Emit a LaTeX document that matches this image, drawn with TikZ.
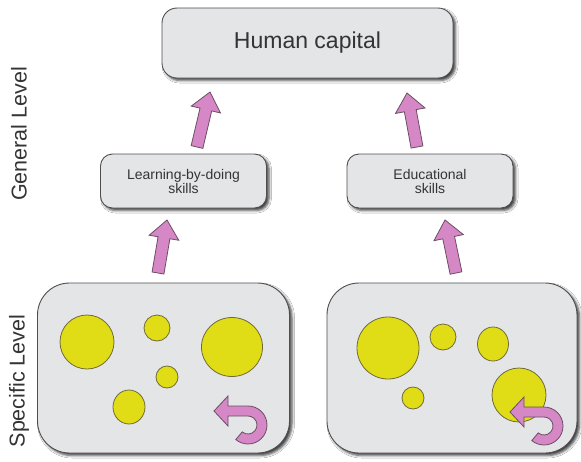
\documentclass[tikz,border=0pt]{standalone}
\usepackage{fontspec}
\setmainfont{Liberation Sans}
\usetikzlibrary{calc,shadows.blur}
\definecolor{boxfill}{RGB}{228,229,231}
\definecolor{boxline}{RGB}{78,78,80}
\definecolor{pinkarrow}{RGB}{214,136,198}
\definecolor{pinkline}{RGB}{105,78,100}
\definecolor{spotfill}{RGB}{224,221,22}
\definecolor{spotline}{RGB}{112,106,58}
\definecolor{txtgrey}{RGB}{52,52,52}

% fat upward arrow from #1 (tail) to #2 (tip)
\newcommand{\blockarrow}[2]{%
  \path ($(#2)!18pt!(#1)$) coordinate (ba-base);
  \draw[fatarrow] ($(#1)!6pt!90:(#2)$) -- ($(ba-base)!6pt!-90:(#1)$)
    -- ($(ba-base)!15pt!-90:(#1)$) -- (#2) -- ($(ba-base)!15pt!90:(#1)$)
    -- ($(ba-base)!6pt!90:(#1)$) -- ($(#1)!6pt!-90:(#2)$) -- cycle;}

\begin{document}
\begin{tikzpicture}[x=1pt,y=-1pt,
  box/.style={draw=boxline,fill=boxfill,line width=0.9pt,inner sep=0pt,outer sep=0pt,
    align=center,text=txtgrey,
    blur shadow={shadow xshift=2.5pt,shadow yshift=-2.5pt,shadow blur radius=2.5pt,shadow opacity=75}},
  skillbox/.style={box,minimum width=166,minimum height=54,rounded corners=12,
    font=\fontsize{14}{14}\selectfont},
  levelbox/.style={box,minimum width=252,minimum height=170,rounded corners=32},
  sidelab/.style={rotate=90,text=txtgrey,font=\fontsize{21.5}{22}\selectfont},
  fatarrow/.style={draw=pinkline,fill=pinkarrow,line width=0.8pt,line join=miter},
  spot/.style={draw=spotline,fill=spotfill,line width=0.8pt}]

  \path[use as bounding box,fill=white] (0,0) rectangle (581,461);

  % top level
  \node[box,minimum width=291,minimum height=70,rounded corners=15,
    font=\fontsize{23}{23}\selectfont] (hc) at (307.5,43) {Human capital};

  % general level
  \node[skillbox] (lbd) at (183.5,181) {Learning-by-doing\\skills};
  \node[skillbox] (edu) at (430,181) {Educational\\skills};

  % specific level
  \node[levelbox] (spl) at (163.5,368) {};
  \node[levelbox,minimum width=250] (spr) at (452,368) {};

  \node[sidelab] (genlab) at (19,134) {General Level};
  \node[sidelab] (speclab) at (19,381) {Specific Level};

  % arrows between the levels
  \coordinate (lbd-out) at ($(lbd.north)+(13.5,-7)$);
  \coordinate (hc-inl) at ($(hc.south)+(-97.5,14)$);
  \coordinate (edu-out) at ($(edu.north)+(-13,-7)$);
  \coordinate (hc-inr) at ($(hc.south)+(99.5,15)$);
  \coordinate (spl-out) at ($(spl.north)+(-5.5,-10)$);
  \coordinate (lbd-in) at ($(lbd.south)+(-16.5,12)$);
  \coordinate (spr-out) at ($(spr.north)+(4,-10)$);
  \coordinate (edu-in) at ($(edu.south)+(15,12)$);
  \blockarrow{lbd-out}{hc-inl}
  \blockarrow{edu-out}{hc-inr}
  \blockarrow{spl-out}{lbd-in}
  \blockarrow{spr-out}{edu-in}

  % spots inside the level boxes
  \foreach \cx/\cy/\rx/\ry in {87/342/27/27, 157/328/13/13, 232/347/30.5/29.5,
      167/377/11/11, 129/407/16/17,
      388/348/31/31, 443/337/13/13, 493/344/15.5/17, 519/395/27/27, 413/398/11/11}
    \draw[spot] (\cx,\cy) ellipse [x radius=\rx, y radius=\ry];

  % turning arrows
  \foreach \ux/\uy in {214/411, 510/412}{
    \begin{scope}[shift={(\ux,\uy)}]
      \draw[fatarrow] (14,5) -- (14,15) -- (0,0) -- (14,-15) -- (14,-5) -- (34,-5)
        arc[start angle=-90,end angle=130,radius=19] -- ++(130:-10)
        arc[start angle=130,end angle=-90,radius=9] -- cycle;
    \end{scope}}
\end{tikzpicture}
\end{document}
